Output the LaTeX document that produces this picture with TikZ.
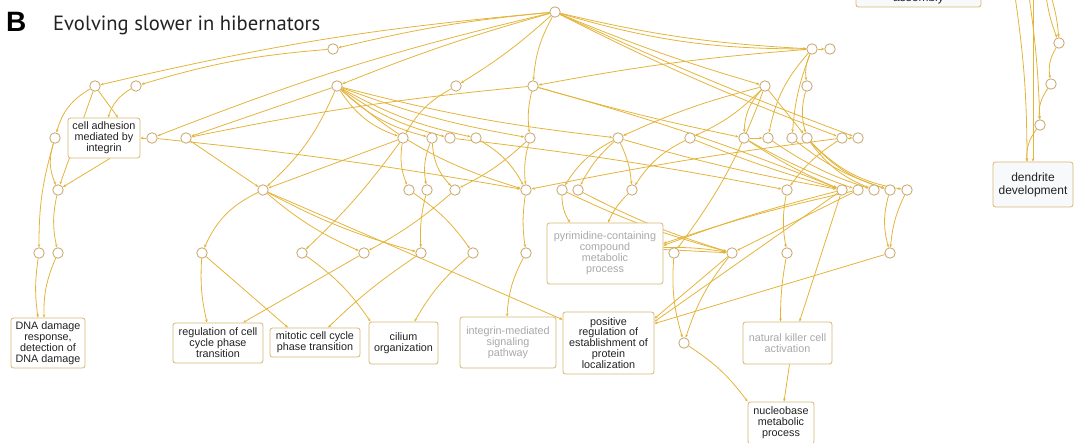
\documentclass[tikz,border=0pt]{standalone}
\usepackage{fontspec}
\setmainfont{Liberation Sans}
\newfontfamily\titlefont{PT Sans}
\usetikzlibrary{arrows.meta}
\definecolor{edgecol}{HTML}{E4B43A}
\definecolor{circcol}{HTML}{C6A56C}
\definecolor{boxcol}{HTML}{D6B673}
\definecolor{txtcol}{HTML}{222222}
\definecolor{graytxt}{HTML}{A9A9A9}
\definecolor{boxfill}{HTML}{F8F9FB}
\pgfdeclarelayer{bg}
\pgfsetlayers{bg,main}
\tikzset{
  circ/.style={circle,draw=circcol,fill=white,line width=0.8pt,minimum size=10.5pt,inner sep=0pt},
  gobox/.style={draw=boxcol,rounded corners=2.5pt,fill=white,line width=0.8pt,align=center,
     font=\fontsize{10.8}{10.9}\selectfont,text=txtcol,inner sep=0pt},
  greybox/.style={gobox,text=graytxt},
  lnk/.style={draw=edgecol,line width=0.8pt,-{Stealth[length=3.2pt,width=2.6pt]}}
}
\begin{document}
\begin{tikzpicture}[x=1pt,y=-1pt]
\useasboundingbox (0,0) rectangle (1074,443);
% title
\node[anchor=base west,inner sep=0pt,font=\fontsize{28}{30}\selectfont\bfseries] (lbl) at (6,32) {B};
\node[anchor=base west,inner sep=0pt,font=\titlefont\fontsize{20.6}{24}\selectfont,text=txtcol] (ttl) at (53,31) {Evolving slower in hibernators};
% circles
\foreach \n/\x/\y in {t0/555/12,a1/333/49,a2/812/49,a3/830/49,
  b1/95/86,b2/136/86,b3/337/86,b4/456/86,b5/533/86,b6/765/86,b7/807/86,
  c1/55/138,c2/152/138,c3/186/138,c4/403/138,c5/432/138,c6/450/138,c7/476/138,c8/530/138,
  c9/618/138,c10/690/138,c11/744/138,c12/768/138,c13/792/138,c14/807/138,c15/842/138,c16/858/138,
  d1/58/190,d2/263/190,d3/409/190,d4/427/190,d5/455/190,d6/526/190,d7/562/190,d8/578/190,d9/632/190,
  d10/787/190,d11/842/190,d12/858/190,d13/874/190,d14/890/190,d15/907/190,
  e1/39/253,e2/58/253,e3/202/253,e4/302/253,e5/364/253,e6/421/253,e7/473/253,e8/526/253,
  e9/674/253,e10/732/253,e11/787/253,e12/890/253,f1/684/343,
  r1/1059/43,r2/1051/84,r3/1040/125}
  {\node[circ] (\n) at (\x,\y) {};}
% boxes
\node[gobox,minimum width=72pt,minimum height=40pt] (cai) at (104,138) {cell adhesion\\mediated by\\integrin};
\node[gobox,minimum width=74pt,minimum height=50pt] (dna) at (48,343) {DNA damage\\response,\\detection of\\DNA damage};
\node[gobox,minimum width=90pt,minimum height=40pt] (reg) at (218,343) {regulation of cell\\cycle phase\\transition};
\node[gobox,minimum width=90pt,minimum height=29pt] (mit) at (315,342.5) {mitotic cell cycle\\phase transition};
\node[gobox,minimum width=69pt,minimum height=42pt] (cil) at (403.5,343) {cilium\\organization};
\node[greybox,minimum width=96pt,minimum height=51pt] (itg) at (508,342.5) {integrin-mediated\\signaling\\pathway};
\node[gobox,minimum width=91pt,minimum height=62pt] (pos) at (608.5,343) {positive\\regulation of\\establishment of\\protein\\localization};
\node[greybox,minimum width=116pt,minimum height=61pt] (pyr) at (605,253.5) {pyrimidine-containing\\compound\\metabolic\\process};
\node[greybox,minimum width=89pt,minimum height=42pt] (nk) at (787.5,343) {natural killer cell\\activation};
\node[gobox,minimum width=66pt,minimum height=42pt] (nuc) at (781,423) {nucleobase\\metabolic\\process};
\node[gobox,fill=boxfill,minimum width=80pt,minimum height=45pt,font=\fontsize{12}{13}\selectfont] (den) at (1033,184.5) {dendrite\\development};
\node[gobox,fill=boxfill,minimum width=125pt,minimum height=50pt] (asm) at (918.5,-18) {};
\node[inner sep=0pt,anchor=base,font=\fontsize{12}{13}\selectfont,text=txtcol] (asmt) at (918.5,1.5) {assembly};
\coordinate (q1) at (1015,-4);
\coordinate (q2) at (1029,-4);
\coordinate (q3) at (1033,-4);
\coordinate (q4) at (1046,-4);
\coordinate (q5) at (1051,-4);
\begin{pgfonlayer}{bg}
% top fan
\draw[lnk] (t0) to[bend right=4] (a1);
\draw[lnk] (t0) to[bend right=4] (b1);
\draw[lnk] (a1) to[bend right=6] (b2);
\draw[lnk] (t0) to[bend right=3] (b3);
\draw[lnk] (t0) to[bend right=4] (c2);
\draw[lnk] (t0) to[bend left=5] (b4);
\draw[lnk] (t0) to[bend right=12] (b5);
\draw[lnk] (t0) to[bend right=3] (b6);
\draw[lnk] (t0) to[bend right=5] (a2);
\draw[lnk] (t0) to[bend right=8] (a2);
\draw[lnk] (t0) to[bend right=3] (c15);
\draw[lnk] (t0) to[bend right=2] (c16);
% left cluster
\draw[lnk] (b1) to[bend right=22] (c1);
\draw[lnk] (b1) -- ([xshift=14pt]cai.north);
\draw[lnk] (b1) -- (d1);
\draw[lnk] (b2) to[bend right=20] ([xshift=4pt]cai.north);
\draw[lnk] (c1) to[bend right=20] (d1);
\draw[lnk] ([xshift=6pt]cai.south) -- (d1);
\draw[lnk] (c1) to[bend right=8] (e1);
\draw[lnk] (d1) to[bend right=12] (e2);
\draw[lnk] (e1) to[bend right=8] ([xshift=-10pt]dna.north);
\draw[lnk] (e2) to[bend right=12] ([xshift=-4pt]dna.north);
\draw[lnk] (c2) -- (cai.east);
\draw[lnk] (b5) to[bend right=3] (c3);
\draw[lnk] (b3) -- (c3);
\draw[lnk] (b3) to[bend left=12] (d2);
\draw[lnk] (c3) -- (d2);
\draw[lnk] (c2) to[bend left=2] (d6);
\draw[lnk] (c4) -- (d2);
\draw[lnk] (d2) to[bend right=20] (e3);
\draw[lnk] (d2) to[bend right=8] (e5);
\draw[lnk] (d2) to[bend right=6] (e6);
\draw[lnk] (d2) -- ([yshift=-8pt]pos.north west);
% middle
\draw[lnk] (c4) to[bend left=5] (e4);
\draw[lnk] (c4) to[bend right=15] (d3);
\draw[lnk] (c5) to[bend right=15] (d4);
\draw[lnk] (c5) to[bend right=20] (d5);
\draw[lnk] (c7) to[bend left=15] (d6);
\draw[lnk] (c8) to[bend right=10] (d6);
\draw[lnk] (c8) to[bend left=8] (d5);
\draw[lnk] (b5) to[bend right=10] (c8);
\draw[lnk] (b4) to[bend right=15] (c4);
\draw[lnk] (b3) to[bend right=18] (c4);
\draw[lnk] (b3) to[bend right=14] (c5);
\draw[lnk] (b3) to[bend right=10] (c6);
\draw[lnk] (b3) to[bend right=8] (c7);
\draw[lnk] (b3) to[bend right=5] (c8);
\draw[lnk] (b3) to[bend right=4] (c9);
\draw[lnk] (b3) to[bend right=12] (d6);
\draw[lnk] (c6) to[bend left=2] (d10);
\draw[lnk] (c15) to[bend right=2] (d6);
\draw[lnk] (b5) to[bend left=3] (d11);
\draw[lnk] (a2) to[bend right=3] (b5);
\draw[lnk] (b5) to[bend right=2] (c11);
% right part
\draw[lnk] (b6) to[bend right=5] (c9);
\draw[lnk] (b6) to[bend left=10] (c10);
\draw[lnk] (b6) to[bend left=8] (e9);
\draw[lnk] (b6) -- (c14);
\draw[lnk] (a2) -- (a3);
\draw[lnk] (a2) to[bend right=15] (b7);
\draw[lnk] (b7) to[bend right=15] (c14);
\draw[lnk] (a2) to[bend right=15] (c12);
\draw[lnk] (a2) to[bend right=8] (c13);
\draw[lnk] (b6) to[bend right=20] (c11);
\draw[lnk] (c11) -- (c12);
\draw[lnk] (c9) to[bend right=15] (d7);
\draw[lnk] (c9) to[bend right=10] (d8);
\draw[lnk] (c9) to[bend left=10] (d9);
\draw[lnk] (c10) to[bend right=15] (d9);
\draw[lnk] (c15) -- (c16);
\draw[lnk] (c15) to[bend right=10] (d10);
\draw[lnk] (c11) to[bend right=5] (d11);
\draw[lnk] (c11) to[bend right=5] (d12);
\draw[lnk] (c14) to[bend right=15] (d13);
\draw[lnk] (c14) to[bend right=15] (d14);
\draw[lnk] (c14) to[bend right=18] (d15);
\draw[lnk] (c12) to[bend right=8] (d13);
\draw[lnk] (c13) to[bend right=10] (d14);
\draw[lnk] (c9) to[bend right=3] (d11);
\draw[lnk] (c10) to[bend right=3] (d11);
\draw[lnk] (d14) to[bend right=15] (e12);
\draw[lnk] (d15) to[bend right=10] (e12);
\draw[lnk] (d10) to[bend right=10] (e11);
\draw[lnk] (e11) to[bend right=5] ([xshift=-7pt]nk.north);
\draw[lnk] (d11) -- ([xshift=12pt]nk.north);
\draw[lnk] ([xshift=2pt]nk.south) -- ([xshift=3pt]nuc.north);
\draw[lnk] (e9) to[bend right=10] (f1);
\draw[lnk] (e10) to[bend right=10] (f1);
\draw[lnk] (f1) to[bend left=10] (nuc.north west);
\draw[lnk] (d7) to[bend right=15] ([xshift=-35pt]pyr.north);
\draw[lnk] (d9) to[bend right=10] ([xshift=3pt]pyr.north);
\draw[lnk] (d7) to[bend right=5] (e10);
\draw[lnk] (d8) to[bend right=5] (e10);
\draw[lnk] ([yshift=6pt]pyr.east) to[bend left=5] (e10);
\draw[lnk] ([yshift=4pt]pyr.east) -- (e10);
\draw[lnk] (d11) to[bend right=3] ([yshift=8pt]pyr.east);
\draw[lnk] (d12) to[bend right=3] ([yshift=10pt]pyr.east);
\draw[lnk] (e10) -- ([yshift=-7pt]pos.north east);
\draw[lnk] (e12) -- ([yshift=-12pt]pos.north east);
\draw[lnk] (d11) -- ([yshift=-10pt]pos.north east);
\draw[lnk] (d12) -- (e10);
% lower middle
\draw[lnk] (d6) to[bend right=8] (e8);
\draw[lnk] (d3) to[bend left=10] (e7);
\draw[lnk] (d4) to[bend right=8] (e6);
\draw[lnk] (d5) to[bend left=6] (e5);
\draw[lnk] (e3) to[bend right=8] ([xshift=-11pt]reg.north);
\draw[lnk] (e5) -- ([xshift=25pt]reg.north);
\draw[lnk] (e3) -- ([xshift=-27pt]mit.north);
\draw[lnk] (e6) to[bend right=5] ([xshift=13pt]mit.north);
\draw[lnk] (e4) to[bend left=10] ([xshift=-33pt]cil.north);
\draw[lnk] (e7) to[bend right=10] ([xshift=11pt]cil.north);
\draw[lnk] (e8) to[bend right=12] ([xshift=-1pt]itg.north);
% far right cluster
\draw[lnk] (q1) to[bend left=4] ([xshift=-6pt]den.north);
\draw[lnk] (q2) to[bend left=3] (r3);
\draw[lnk] (q3) -- (den.north);
\draw[lnk] (q4) to[bend right=6] (r1);
\draw[lnk] (q5) to[bend left=6] (r1);
\draw[lnk] (r1) to[bend right=20] (r2);
\draw[lnk] (r2) to[bend right=20] (r3);
\draw[lnk] (r3) to[bend right=20] ([xshift=-6pt]den.north);
\end{pgfonlayer}
\end{tikzpicture}
\end{document}
